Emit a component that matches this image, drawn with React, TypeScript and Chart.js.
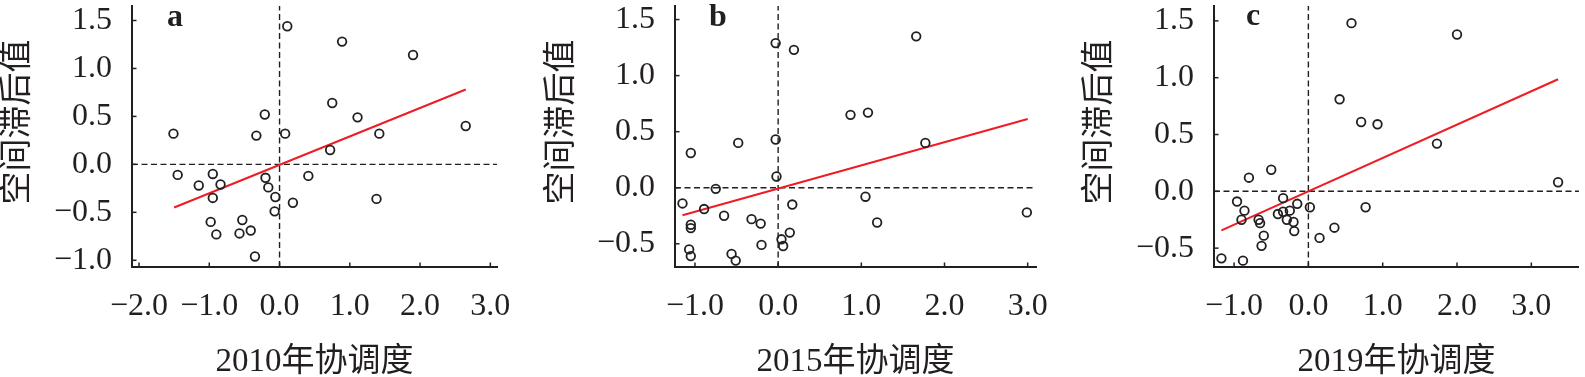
import React, { useEffect, useRef } from 'react';
import { Chart, registerables } from 'chart.js';

Chart.register(...registerables);

// ---------- Data ----------
const xA = [0.11, 0.89, 1.9, 0.75, 1.11, -0.21, -1.51, -0.33, 0.08, 1.42, 2.65, 0.72, -1.45, -0.95, -1.15, -0.84, -0.2, -0.16, 0.41, -0.06, -0.95, 0.19, 1.38, -0.07, -0.53, -0.98, -0.9, -0.57, -0.41, -0.35];
const yA = [1.44, 1.28, 1.14, 0.64, 0.49, 0.52, 0.32, 0.3, 0.32, 0.32, 0.4, 0.15, -0.11, -0.1, -0.22, -0.21, -0.14, -0.24, -0.12, -0.34, -0.35, -0.4, -0.36, -0.49, -0.58, -0.6, -0.73, -0.72, -0.69, -0.96];
const lineAx = [-1.5, 2.65];
const lineAy = [-0.45, 0.78];

const xB = [1.66, -0.03, 0.19, 0.87, 1.08, -0.48, -0.03, -1.05, 1.77, -0.02, -0.75, -1.15, -0.89, -0.65, 0.17, 1.05, -0.32, -0.21, 1.19, 2.99, -1.05, -1.05, 0.14, 0.04, 0.06, -0.2, -1.07, -1.05, -0.56, -0.51];
const yB = [1.35, 1.29, 1.23, 0.65, 0.67, 0.4, 0.43, 0.31, 0.4, 0.1, -0.01, -0.14, -0.19, -0.25, -0.15, -0.08, -0.28, -0.32, -0.31, -0.22, -0.33, -0.36, -0.4, -0.46, -0.52, -0.51, -0.55, -0.61, -0.59, -0.65];
const lineBx = [-1.15, 3.0];
const lineBy = [-0.245, 0.613];

const xC = [0.58, 2.0, 0.42, 0.71, 0.93, 1.73, -0.5, -0.8, 3.36, -0.96, -0.34, -0.15, 0.02, 0.77, -0.86, -0.25, -0.34, -0.41, -0.9, -0.67, -0.29, -0.65, -0.2, -0.19, 0.35, -0.6, 0.15, -0.63, -1.17, -0.88];
const yC = [1.48, 1.38, 0.81, 0.61, 0.59, 0.42, 0.19, 0.12, 0.08, -0.09, -0.06, -0.11, -0.14, -0.14, -0.17, -0.17, -0.18, -0.2, -0.25, -0.25, -0.25, -0.28, -0.27, -0.35, -0.32, -0.39, -0.41, -0.48, -0.59, -0.61];
const lineCx = [-1.17, 3.36];
const lineCy = [-0.343, 0.986];

const xTicksA = [-2, -1, 0, 1, 2, 3];
const xTicksBC = [-1, 0, 1, 2, 3];
const yTicksA = [-1, -0.5, 0, 0.5, 1, 1.5];
const yTicksBC = [-0.5, 0, 0.5, 1, 1.5];

const yTitle = '空间滞后值';
const xTitleA = '2010年协调度';
const xTitleB = '2015年协调度';
const xTitleC = '2019年协调度';

// ---------- Styling ----------
const INK = '#231f20';
const RED = '#ee1c24';
const FONT = "'Liberation Serif', 'Times New Roman', 'Noto Sans CJK SC', serif";

type PanelProps = {
  left: number; width: number; axisW: number; rightPad: number;
  xMin: number; xMax: number; yMin: number; yMax: number;
  xs: number[]; ys: number[]; lx: number[]; ly: number[];
  xTicks: number[]; yTicks: number[];
  xTitle: string; yTitleX: number; yTitleY: number;
  label: string; labelX: number; labelY: number;
};

const H = 377;

function fmt(v: number) {
  return v < 0 ? '\u2212' + Math.abs(v).toFixed(1) : v.toFixed(1);
}

function Panel(p: PanelProps) {
  const ref = useRef<HTMLCanvasElement | null>(null);
  useEffect(() => {
    if (!ref.current) return;
    const pts = p.xs.map((x, i) => ({ x, y: p.ys[i] }));
    const reg = p.lx.map((x, i) => ({ x, y: p.ly[i] }));
    const extrasPlugin = {
      id: 'extras',
      afterDraw(chart: any) {
        const ctx = chart.ctx;
        const xs = chart.scales.x;
        const ys = chart.scales.y;
        const area = chart.chartArea;
        ctx.save();
        ctx.strokeStyle = INK;
        ctx.lineWidth = 1.5;
        xs.ticks.forEach((t: any) => {
          const px = xs.getPixelForValue(t.value);
          ctx.beginPath();
          ctx.moveTo(px, area.bottom);
          ctx.lineTo(px, area.bottom - 4.5);
          ctx.stroke();
        });
        ys.ticks.forEach((t: any) => {
          const py = ys.getPixelForValue(t.value);
          ctx.beginPath();
          ctx.moveTo(area.left, py);
          ctx.lineTo(area.left + 4.5, py);
          ctx.stroke();
        });
        // y axis title
        ctx.fillStyle = INK;
        ctx.font = `33px ${FONT}`;
        ctx.textAlign = 'center';
        ctx.textBaseline = 'middle';
        ctx.translate(p.yTitleX, p.yTitleY);
        ctx.rotate(-Math.PI / 2);
        ctx.fillText(yTitle, 0, 0);
        ctx.restore();
        // panel letter
        ctx.save();
        ctx.fillStyle = INK;
        ctx.font = `bold 32px ${FONT}`;
        ctx.textAlign = 'left';
        ctx.textBaseline = 'alphabetic';
        ctx.fillText(p.label, p.labelX, p.labelY);
        ctx.restore();
      },
    };
    const chart = new Chart(ref.current, {
      type: 'scatter',
      data: {
        datasets: [
          {
            data: pts,
            pointRadius: 4.3,
            pointHoverRadius: 4.3,
            pointBorderWidth: 1.8,
            pointBorderColor: INK,
            pointBackgroundColor: 'rgba(0,0,0,0)',
            showLine: false,
          } as any,
          {
            data: reg,
            showLine: true,
            borderColor: RED,
            borderWidth: 2,
            pointRadius: 0,
          } as any,
          {
            data: [{ x: p.xMin, y: 0 }, { x: p.xMax, y: 0 }],
            showLine: true,
            borderColor: INK,
            borderWidth: 1.4,
            borderDash: [6, 3.5],
            pointRadius: 0,
          } as any,
          {
            data: [{ x: 0, y: p.yMin }, { x: 0, y: p.yMax }],
            showLine: true,
            borderColor: INK,
            borderWidth: 1.4,
            borderDash: [6, 3.5],
            pointRadius: 0,
          } as any,
        ],
      },
      options: {
        responsive: false,
        animation: false,
        devicePixelRatio: 1,
        layout: { padding: { left: 0, right: p.rightPad, top: 0, bottom: 0 } },
        plugins: { legend: { display: false }, tooltip: { enabled: false } },
        scales: {
          x: {
            type: 'linear',
            min: p.xMin,
            max: p.xMax,
            afterBuildTicks: (s: any) => { s.ticks = p.xTicks.map((v) => ({ value: v })); },
            afterFit: (s: any) => { s.height = 110; s.paddingLeft = 0; s.paddingRight = 0; },
            grid: { display: false, drawTicks: false },
            border: { display: true, color: INK, width: 2 },
            ticks: {
              color: INK,
              padding: 20,
              font: { family: FONT, size: 32 },
              callback: (v: any) => fmt(Number(v)),
              maxRotation: 0,
              autoSkip: false,
            },
            title: {
              display: true,
              text: p.xTitle,
              color: INK,
              font: { family: FONT, size: 33, lineHeight: 1 },
              padding: { top: 0, bottom: -2 },
            },
          },
          y: {
            type: 'linear',
            min: p.yMin,
            max: p.yMax,
            afterBuildTicks: (s: any) => { s.ticks = p.yTicks.map((v) => ({ value: v })); },
            afterFit: (s: any) => { s.width = p.axisW; s.paddingTop = 0; s.paddingBottom = 0; },
            grid: { display: false, drawTicks: false },
            border: { display: true, color: INK, width: 2 },
            ticks: {
              color: INK,
              padding: 20,
              font: { family: FONT, size: 32 },
              callback: (v: any) => fmt(Number(v)),
              autoSkip: false,
            },
          },
        },
      } as any,
      plugins: [extrasPlugin],
    });
    return () => chart.destroy();
  }, []);
  return (
    <canvas
      ref={ref}
      width={p.width}
      height={H}
      style={{ position: 'absolute', left: p.left, top: 0, width: p.width, height: H }}
    />
  );
}

export default function App() {
  return (
    <div style={{ position: 'fixed', left: 0, top: 0, width: 1585, height: H, background: '#fff', overflow: 'hidden' }}>
      <Panel left={0} width={520} axisW={132} rightPad={23}
        xMin={-2.1} xMax={3.095} yMin={-1.07} yMax={1.65}
        xs={xA} ys={yA} lx={lineAx} ly={lineAy}
        xTicks={xTicksA} yTicks={yTicksA}
        xTitle={xTitleA} yTitleX={18} yTitleY={122}
        label="a" labelX={167} labelY={26} />
      <Panel left={520} width={530} axisW={155} rightPad={14}
        xMin={-1.24} xMax={3.1} yMin={-0.707} yMax={1.62}
        xs={xB} ys={yB} lx={lineBx} ly={lineBy}
        xTicks={xTicksBC} yTicks={yTicksBC}
        xTitle={xTitleB} yTitleX={42} yTitleY={122}
        label="b" labelX={189} labelY={26} />
      <Panel left={1050} width={535} axisW={164} rightPad={0}
        xMin={-1.27} xMax={3.64} yMin={-0.666} yMax={1.63}
        xs={xC} ys={yC} lx={lineCx} ly={lineCy}
        xTicks={xTicksBC} yTicks={yTicksBC}
        xTitle={xTitleC} yTitleX={50} yTitleY={122}
        label="c" labelX={196} labelY={25} />
    </div>
  );
}
